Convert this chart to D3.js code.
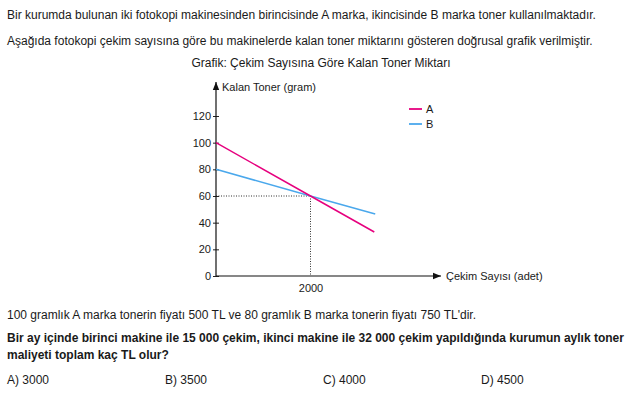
<!DOCTYPE html>
<html><head><meta charset="utf-8">
<script src="https://cdn.jsdelivr.net/npm/d3@7"></script>
<style>
body{margin:0;background:#fff;}
svg{display:block;font-family:"Liberation Sans",Arial,sans-serif;}
</style></head>
<body>
<svg id="c" width="642" height="415"></svg>
<script>
const seriesNames = ["A","B"];
const seriesColors = ["#e6007e","#4aa8ec"];
const xA = [0, 2000, 3350];
const yA = [100, 60, 33];
const xB = [0, 2000, 3370];
const yB = [80, 60, 46.5];
const yTicks = [0,20,40,60,80,100,120];
const xTicks = [2000];
const questionTop = [
 "Bir kurumda bulunan iki fotokopi makinesinden birincisinde A marka, ikincisinde B marka toner kullanılmaktadır.",
 "Aşağıda fotokopi çekim sayısına göre bu makinelerde kalan toner miktarını gösteren doğrusal grafik verilmiştir."
];
const chartTitle = "Grafik: Çekim Sayısına Göre Kalan Toner Miktarı";
const yLabel = "Kalan Toner (gram)";
const xLabel = "Çekim Sayısı (adet)";
const infoLine = "100 gramlık A marka tonerin fiyatı 500 TL ve 80 gramlık B marka tonerin fiyatı 750 TL'dir.";
const boldLines = ["Bir ay içinde birinci makine ile 15 000 çekim, ikinci makine ile 32 000 çekim yapıldığında kurumun aylık toner","maliyeti toplam kaç TL olur?"];
const options = ["A) 3000","B) 3500","C) 4000","D) 4500"];

const svg = d3.select("#c");
const txt = "#1a1a1a";

svg.selectAll("text.q").data(questionTop).join("text").attr("class","q")
  .attr("x",7).attr("y",(d,i)=>19+i*26).attr("font-size",12).attr("fill",txt).text(d=>d);

svg.append("text").attr("x",321).attr("y",67).attr("text-anchor","middle")
  .attr("font-size",12).attr("fill",txt).text(chartTitle);

const x = d3.scaleLinear().domain([0,2000]).range([216,310.5]);
const y = d3.scaleLinear().domain([0,120]).range([276,116]);

// dotted guides
const g = svg.append("g");
g.append("line").attr("x1",x(0)).attr("x2",x(2000)).attr("y1",y(60)).attr("y2",y(60))
  .attr("stroke","#333").attr("stroke-width",1).attr("stroke-dasharray","1,1.5");
g.append("line").attr("x1",x(2000)).attr("x2",x(2000)).attr("y1",y(60)).attr("y2",y(0))
  .attr("stroke","#333").attr("stroke-width",1).attr("stroke-dasharray","1,1.5");

// axes
const ya = svg.append("g").attr("transform",`translate(${x(0)},0)`)
  .call(d3.axisLeft(y).tickValues(yTicks).tickSize(3).tickPadding(2));
ya.select(".domain").remove();
ya.selectAll(".tick line").attr("x2",3).attr("x1",-3).attr("stroke","#222");
ya.selectAll(".tick text").attr("font-size",11).attr("fill",txt).attr("font-family","Liberation Sans, Arial, sans-serif").attr("x",-5);

const xa = svg.append("g").attr("transform",`translate(0,${y(0)})`)
  .call(d3.axisBottom(x).tickValues(xTicks).tickFormat(d3.format("d")).tickSize(0).tickPadding(8));
xa.select(".domain").remove();
xa.selectAll(".tick text").attr("font-size",11).attr("fill",txt).attr("font-family","Liberation Sans, Arial, sans-serif");

// axis lines with arrows
svg.append("defs").append("marker").attr("id","arr").attr("viewBox","0 0 10 10")
  .attr("refX",10).attr("refY",5).attr("markerWidth",7).attr("markerHeight",7).attr("orient","auto")
  .append("path").attr("d","M0,1 L10,5 L0,9 Z").attr("fill","#111");
svg.append("line").attr("x1",x(0)).attr("y1",y(0)).attr("x2",x(0)).attr("y2",82)
  .attr("stroke","#111").attr("stroke-width",1.2).attr("marker-end","url(#arr)");
svg.append("line").attr("x1",x(0)).attr("y1",y(0)).attr("x2",441).attr("y2",y(0))
  .attr("stroke","#111").attr("stroke-width",1.2).attr("marker-end","url(#arr)");

svg.append("text").attr("x",222).attr("y",91).attr("font-size",11).attr("fill",txt).text(yLabel);
svg.append("text").attr("x",446).attr("y",280).attr("font-size",11).attr("fill",txt).text(xLabel);

// series
const line = d3.line().x(d=>x(d[0])).y(d=>y(d[1]));
const dataA = xA.map((v,i)=>[v,yA[i]]);
const dataB = xB.map((v,i)=>[v,yB[i]]);
svg.append("path").datum(dataB).attr("d",line).attr("fill","none").attr("stroke",seriesColors[1]).attr("stroke-width",1.5);
svg.append("path").datum(dataA).attr("d",line).attr("fill","none").attr("stroke",seriesColors[0]).attr("stroke-width",1.5);

// legend
const lg = svg.append("g");
seriesNames.forEach((n,i)=>{
  const yy = 109 + i*15;
  lg.append("line").attr("x1",409).attr("x2",422).attr("y1",yy).attr("y2",yy).attr("stroke",seriesColors[i]).attr("stroke-width",1.8);
  lg.append("text").attr("x",426).attr("y",yy+4).attr("font-size",11).attr("fill",txt).text(n);
});

// bottom text
svg.append("text").attr("x",7).attr("y",319).attr("font-size",12).attr("fill",txt).text(infoLine);
svg.selectAll("text.b").data(boldLines).join("text").attr("class","b")
  .attr("x",7).attr("y",(d,i)=>342+i*17).attr("font-size",12).attr("font-weight","bold").attr("fill",txt).text(d=>d);
svg.selectAll("text.o").data(options).join("text").attr("class","o")
  .attr("x",(d,i)=>7+i*158).attr("y",384).attr("font-size",12).attr("fill",txt).text(d=>d);
</script>
</body></html>
